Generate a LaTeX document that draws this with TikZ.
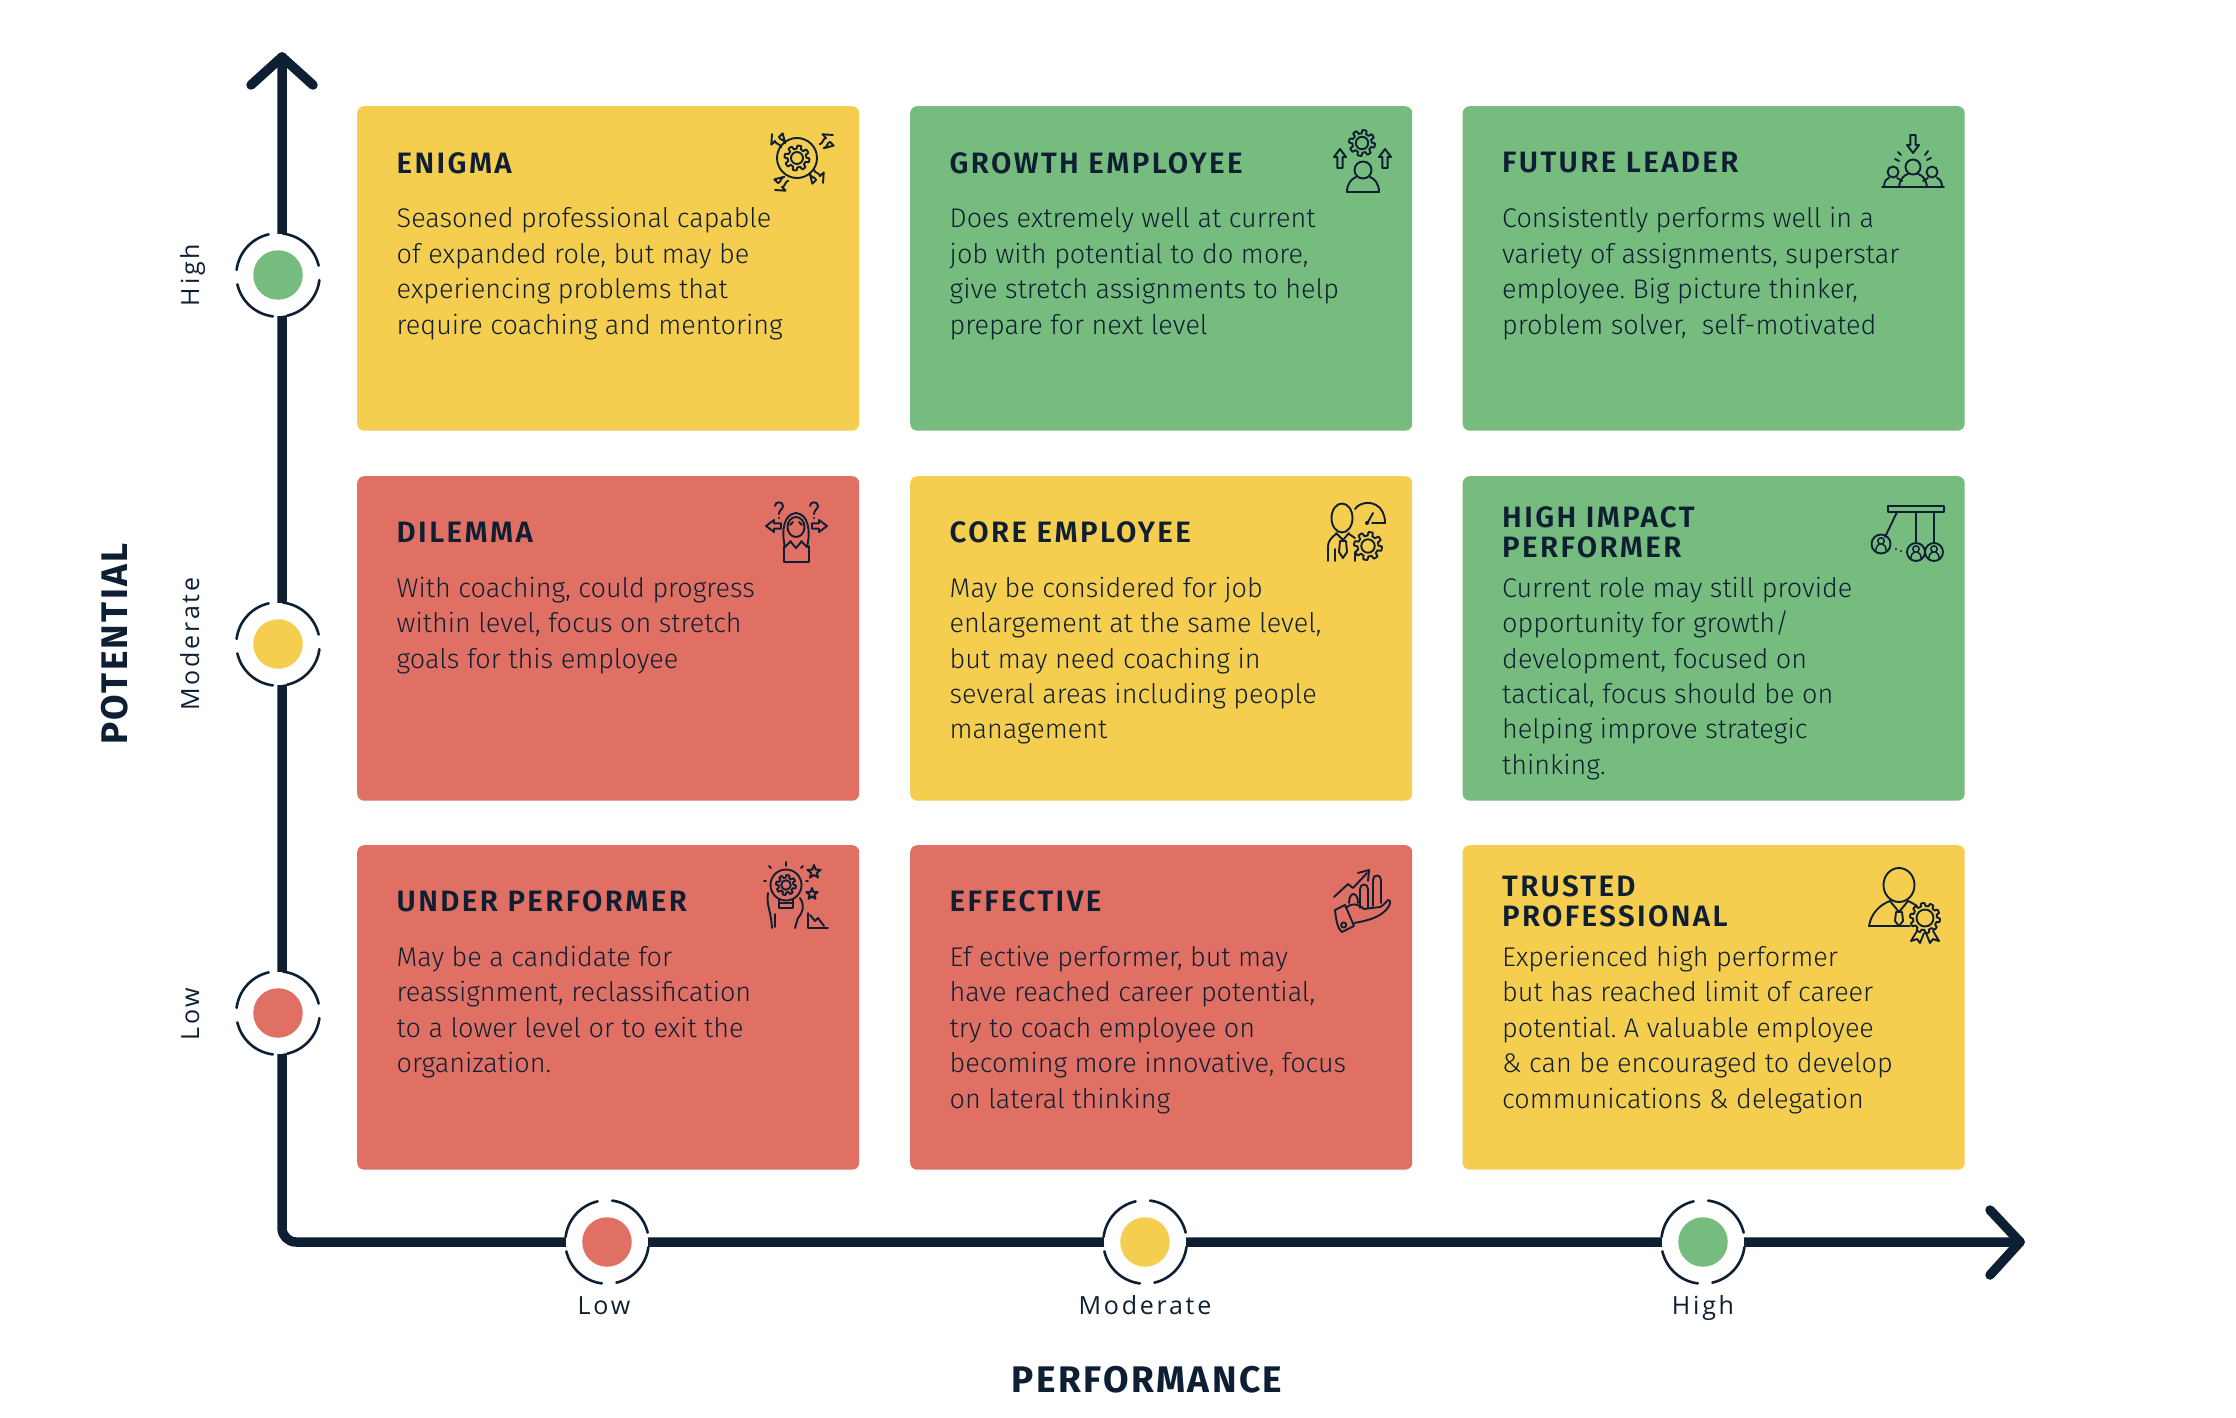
\documentclass[tikz,border=0pt]{standalone}
\usepackage{fontspec}
\setmainfont{Fira Sans}[UprightFont=* Light]
\newfontfamily\titlefont{Fira Sans}[UprightFont=* SemiBold,LetterSpace=8]
\newfontfamily\labelfont{Open Sans}[LetterSpace=11]
\newfontfamily\axisfont{Fira Sans}[UprightFont=* Bold,LetterSpace=6.5]
\definecolor{ink}{HTML}{0F1F33}
\definecolor{cardY}{HTML}{F5CD4F}
\definecolor{cardG}{HTML}{77BC7F}
\definecolor{cardR}{HTML}{E17064}
\frenchspacing
\tikzset{
  card/.style={rounded corners=7pt,minimum width=502pt,minimum height=324.5pt,anchor=north west,inner sep=0pt},
  titletext/.style={anchor=north west,inner sep=0pt,align=left,text=ink,font=\fontsize{29.5}{30}\titlefont\selectfont},
  bodytext/.style={anchor=north west,inner sep=0pt,align=left,text=ink,font=\fontsize{27}{35.4}\selectfont},
  axisline/.style={draw=ink,line width=9.5pt,line cap=round,line join=round},
  markdot/.style={circle,minimum size=49.5pt,inner sep=0pt},
  ringline/.style={draw=ink,line width=2.6pt,line cap=round},
  ticktext/.style={text=ink,inner sep=0pt,font=\fontsize{25}{28}\labelfont\selectfont},
  axistext/.style={text=ink,inner sep=0pt,font=\fontsize{37}{40}\axisfont\selectfont},
  ico/.style={draw=ink,line width=1.9pt,line join=round,line cap=round},
}
\newcommand{\ringmark}[4]{%
  \fill[white] (#2,#3) circle (41);
  \node[markdot,fill=#4] (#1) at (#2,#3) {};
  \foreach \p/\q in {-13/-83,-103/-173,-193/-263,-283/-353}{
    \draw[ringline,shift={(#2,#3)}] plot[domain=\p:\q,samples=24,variable=\t] (\t:41.7);
  }}
\newcommand{\igear}[3]{%
  \draw[ico,shift={(#1,#2)},scale=#3] plot[domain=0:360,samples=145,variable=\t] (\t:{0.87+0.13*min(1,max(-1,3*sin(8*\t)))}) -- cycle;
  \draw[ico,shift={(#1,#2)},scale=#3] (0,0) circle (0.48);}
% block arrow: tip at (#1,#2), rotation #3, shaft length #4
\newcommand{\iarrow}[4]{%
  \draw[ico,shift={(#1,#2)},rotate=#3] (0,0) -- (-6,8) -- (-2.6,8) -- (-2.6,#4) -- (2.6,#4) -- (2.6,8) -- (6,8) -- cycle;}
\newcommand{\iwavy}[3]{%
  \draw[ico,shift={(#1,#2)},rotate=#3] (0,0) -- (-8,7) -- (-2.8,7) .. controls (-5,10) and (-1,12) .. (-2.8,16) (2.8,16) .. controls (5,12) and (1,10) .. (2.8,7) -- (8,7) -- cycle;}
\newcommand{\iqmark}[2]{%
  \draw[ico,shift={(#1,#2)}] (-4,-5) .. controls (-4,-10) and (4,-10) .. (4,-5) .. controls (4,-2) and (0,-1) .. (0,3);
  \fill[ink] (#1,#2+7) circle (1.2);}
\newcommand{\iball}[3]{%
  \draw[ico,shift={(#1,#2)}] (0,0) circle (#3);
  \draw[ico,shift={(#1,#2)},line width=1.5pt] (0,-3) circle (3.2) (-5,6) .. controls (-5,2) and (-3,1) .. (-2,0.5) (5,6) .. controls (5,2) and (3,1) .. (2,0.5);}
\newcommand{\istar}[3]{%
  \draw[ico,shift={(#1,#2)},scale=#3] (90:-1) -- (126:-0.42) -- (162:-1) -- (198:-0.42) -- (234:-1) -- (270:-0.42) -- (306:-1) -- (342:-0.42) -- (18:-1) -- (54:-0.42) -- cycle;}
\begin{document}
\begin{tikzpicture}[x=1pt,y=-1pt]
\useasboundingbox (0,0) rectangle (2236,1418);
\fill[white] (0,0) rectangle (2236,1418);
% ---- axes
\coordinate (ytip) at (282,57);
\coordinate (origin) at (282,1242);
\coordinate (xtip) at (2020,1242);
\coordinate (yl) at (251,85);
\coordinate (yr) at (313,85);
\coordinate (xu) at (1990,1210);
\coordinate (xd) at (1990,1275);
\draw[axisline,rounded corners=14pt] (ytip) -- (origin) -- (xtip);
\draw[axisline] (yl) -- (ytip) -- (yr);
\draw[axisline] (xu) -- (xtip) -- (xd);
% ---- markers
\ringmark{yhigh}{278}{275}{cardG}
\ringmark{ymod}{278}{644}{cardY}
\ringmark{ylow}{278}{1013}{cardR}
\ringmark{xlow}{607}{1242}{cardR}
\ringmark{xmod}{1145}{1242}{cardY}
\ringmark{xhigh}{1703}{1242}{cardG}
% ---- axis labels
\node[ticktext,rotate=90,anchor=base] (lh) at (199,275) {High};
\node[ticktext,rotate=90,anchor=base] (lm) at (199,644) {Moderate};
\node[ticktext,rotate=90,anchor=base] (ll) at (199,1014) {Low};
\node[ticktext,anchor=base] (bl) at (604,1314) {Low};
\node[ticktext,anchor=base] (bm) at (1145,1314) {Moderate};
\node[ticktext,anchor=base] (bh) at (1703,1314) {High};
\node[axistext,rotate=90,anchor=base] (pot) at (127,644) {POTENTIAL};
\node[axistext,anchor=base] (perf) at (1147,1392) {PERFORMANCE};
% ---- cards
\node[card,fill=cardY] (c11) at (357,106) {};
\node[card,fill=cardG] (c12) at (910,106) {};
\node[card,fill=cardG] (c13) at (1462.5,106) {};
\node[card,fill=cardR] (c21) at (357,476) {};
\node[card,fill=cardY] (c22) at (910,476) {};
\node[card,fill=cardG] (c23) at (1462.5,476) {};
\node[card,fill=cardR] (c31) at (357,845) {};
\node[card,fill=cardR] (c32) at (910,845) {};
\node[card,fill=cardY] (c33) at (1462.5,845) {};
% ---- titles (baseline = top + 20)
\node[titletext] (t11) at (396.5,152.3) {\rule{0pt}{20pt}ENIGMA};
\node[titletext] (t12) at (949.5,152.3) {\rule{0pt}{20pt}GROWTH EMPLOYEE};
\node[titletext] (t13) at (1502,152.3) {\rule{0pt}{20pt}FUTURE LEADER};
\node[titletext] (t21) at (396.5,521.8) {\rule{0pt}{20pt}DILEMMA};
\node[titletext] (t22) at (949.5,521.8) {\rule{0pt}{20pt}CORE EMPLOYEE};
\node[titletext] (t23) at (1502,506.7) {\rule{0pt}{20pt}HIGH IMPACT\\PERFORMER};
\node[titletext] (t31) at (396.5,890.8) {\rule{0pt}{20pt}UNDER PERFORMER};
\node[titletext] (t32) at (949.5,890.8) {\rule{0pt}{20pt}EFFECTIVE};
\node[titletext] (t33) at (1502,875.7) {\rule{0pt}{20pt}TRUSTED\\PROFESSIONAL};
% ---- body texts (baseline = top + 24)
\node[bodytext] (b11) at (396.5,203.7) {\rule{0pt}{24pt}Seasoned professional capable\\of expanded role, but may be\\experiencing problems that\\require coaching and mentoring};
\node[bodytext] (b12) at (949.5,203.7) {\rule{0pt}{24pt}Does extremely well at current\\job with potential to do more,\\give stretch assignments to help\\prepare for next level};
\node[bodytext] (b13) at (1502,203.7) {\rule{0pt}{24pt}Consistently performs well in a\\variety of assignments, superstar\\employee. Big picture thinker,\\problem solver,\ \ self-motivated};
\node[bodytext] (b21) at (396.5,573) {\rule{0pt}{24pt}With coaching, could progress\\within level, focus on stretch\\goals for this employee};
\node[bodytext] (b22) at (949.5,573) {\rule{0pt}{24pt}May be considered for job\\enlargement at the same level,\\but may need coaching in\\several areas including people\\management};
\node[bodytext] (b23) at (1502,573) {\rule{0pt}{24pt}Current role may still provide\\opportunity for growth/\\development, focused on\\tactical, focus should be on\\helping improve strategic\\thinking.};
\node[bodytext] (b31) at (396.5,942.3) {\rule{0pt}{24pt}May be a candidate for\\reassignment, reclassification\\to a lower level or to exit the\\organization.};
\node[bodytext] (b32) at (949.5,942.3) {\rule{0pt}{24pt}Ef\ ective performer, but may\\have reached career potential,\\try to coach employee on\\becoming more innovative, focus\\on lateral thinking};
\node[bodytext] (b33) at (1502,942.3) {\rule{0pt}{24pt}Experienced high performer\\but has reached limit of career\\potential. A valuable employee\\\& can be encouraged to develop\\communications \& delegation};
% ---- icon: enigma
\igear{797}{158}{12.5}
\draw[ico] (797,158) circle (20);
\iwavy{772}{134}{45}
\iwavy{833}{135}{-45}
\iwavy{775}{190}{135}
\iwavy{823}{183}{-135}
% ---- icon: growth employee
\igear{1362}{143}{13}
\draw[ico] (1363,170) circle (8.5);
\draw[ico] (1356,177) .. controls (1351,179) and (1347,184) .. (1347,192) -- (1379,192) .. controls (1379,184) and (1375,179) .. (1370,177);
\iarrow{1340}{149}{0}{19}
\iarrow{1385}{149}{0}{19}
% ---- icon: future leader
\begin{scope}[xshift=-3pt]
\iarrow{1916}{153}{180}{18}
\draw[ico] (1901,152) -- (1904,155) (1898,159) -- (1902,161) (1931,151) -- (1928,155) (1934,158) -- (1930,160);
\draw[ico] (1916,167) circle (7.5);
\draw[ico] (1896,172) circle (5.5) (1935,172) circle (5.5);
\draw[ico] (1902,187) .. controls (1903,179) and (1907,175) .. (1911,174) (1921,174) .. controls (1925,175) and (1929,179) .. (1930,187);
\draw[ico] (1887,187) .. controls (1887,182) and (1889,179) .. (1892,178) (1900,178) -- (1905,181) (1940,178) .. controls (1943,179) and (1945,182) .. (1945,187) (1931,178) -- (1926,181);
\draw[ico] (1885,187) -- (1947,187);
\end{scope}
% ---- icon: dilemma
\iqmark{779}{511}
\iqmark{814}{511}
\iarrow{766}{526}{90}{15}
\iarrow{827}{526}{-90}{15}
\draw[ico] (796,527) ellipse (8.5 and 10);
\draw[ico] (785,547) .. controls (781,530) and (784,514) .. (796,513) .. controls (808,514) and (811,530) .. (807,547);
\draw[ico] (784,546) -- (784,562) -- (809,562) -- (809,546) (790,541) -- (796,548) -- (802,541) (785,547) -- (791,541) (807,547) -- (801,541);
\draw[ico] (790,525) -- (793,522) (799,522) -- (802,525);
% ---- icon: core employee
\begin{scope}[xshift=-3pt]
\draw[ico] (1345,518) ellipse (10.5 and 14.5);
\draw[ico] (1339,533) -- (1346,540) -- (1352,533);
\draw[ico] (1343,541) -- (1349,541) -- (1350,552) -- (1346,558) -- (1342,552) -- cycle;
\draw[ico] (1331,561) -- (1331,546) .. controls (1331,541) and (1335,537) .. (1339,534);
\draw[ico] (1338,561) -- (1338,549) (1358,561) -- (1358,552) (1352,534) -- (1358,538);
\draw[ico] (1358,509) .. controls (1362,503) and (1372,501) .. (1379,505) .. controls (1385,508) and (1388,515) .. (1388,523) -- (1375,523);
\draw[ico] (1376,513) -- (1371,522);
\fill[ink] (1370,523) circle (2);
\igear{1371}{546}{14}
\end{scope}
% ---- icon: high impact
\begin{scope}[xshift=-3pt]
\draw[ico] (1891,506) rectangle (1947,512);
\draw[ico] (1900,512) -- (1888,537) (1919,512) -- (1919,543) (1937,512) -- (1937,543);
\iball{1884}{544}{9.5}
\iball{1919}{552}{9}
\iball{1937}{552}{9}
\fill[ink] (1899,549) circle (1.1) (1904,551) circle (1.1);
\end{scope}
% ---- icon: under performer
\draw[ico] (786,885) circle (15.5);
\igear{786}{885}{10}
\draw[ico] (779,899) -- (779,908) -- (793,908) -- (793,899) (779,903) -- (793,903);
\draw[ico] (768,893) .. controls (766,905) and (771,910) .. (772,928);
\draw[ico] (775,914) -- (775,927);
\draw[ico] (800,898) .. controls (805,906) and (803,912) .. (798,918) -- (795,928);
\istar{814}{872}{7}
\istar{812}{894}{6}
\draw[ico] (766,881) -- (764,881) (771,868) -- (769,866) (786,862) -- (786,866) (801,868) -- (803,866) (806,881) -- (808,881);
\draw[ico] (808,913) -- (808,928) -- (828,928);
\draw[ico] (810,915) -- (815,921) -- (818,918) -- (824,926);
% ---- icon: effective
\begin{scope}[xshift=-4pt]
\draw[ico] (1338,897) -- (1352,884) -- (1357,888) -- (1371,873);
\draw[ico] (1362,873) -- (1373,870) -- (1372,881);
\draw[ico] (1353,903) .. controls (1353,891) and (1362,891) .. (1362,903);
\draw[ico] (1364,908) -- (1364,889) .. controls (1364,883) and (1372,883) .. (1372,889) -- (1372,908);
\draw[ico] (1377,906) -- (1377,880) .. controls (1377,874) and (1385,874) .. (1385,880) -- (1385,903);
\draw[ico] (1339,910) -- (1349,905) -- (1358,926) -- (1346,932) .. controls (1342,930) and (1340,920) .. (1339,910);
\draw[ico] (1347.7,925) circle (2.6);
\draw[ico] (1350,908) .. controls (1356,902) and (1362,904) .. (1368,909) -- (1384,907) .. controls (1388,905) and (1390,902) .. (1392,900) .. controls (1396,900) and (1394,906) .. (1390,910) .. controls (1384,916) and (1376,920) .. (1358,923);
\end{scope}
% ---- icon: trusted professional
\begin{scope}[xshift=-3pt]
\draw[ico] (1902,885) ellipse (15.5 and 17);
\draw[ico] (1872,926) .. controls (1874,914) and (1882,905) .. (1893,901) (1911,901) .. controls (1914,902) and (1917,904) .. (1920,906);
\draw[ico] (1872,926) -- (1913,926);
\draw[ico] (1893,901) -- (1902,912) -- (1911,901);
\draw[ico] (1899,912) -- (1905,912) -- (1906,921) -- (1902,926) -- (1898,921) -- cycle;
\draw[ico,shift={(1928,918)},scale=15] plot[domain=0:360,samples=145,variable=\t] (\t:{0.9+0.1*min(1,max(-1,3*sin(10*\t)))}) -- cycle;
\draw[ico] (1928,918) circle (8.5);
\draw[ico] (1920,931) -- (1914,941) -- (1920,939) -- (1923,943) -- (1927,933) (1929,933) -- (1933,943) -- (1936,939) -- (1942,941) -- (1936,931);
\end{scope}
\end{tikzpicture}
\end{document}
